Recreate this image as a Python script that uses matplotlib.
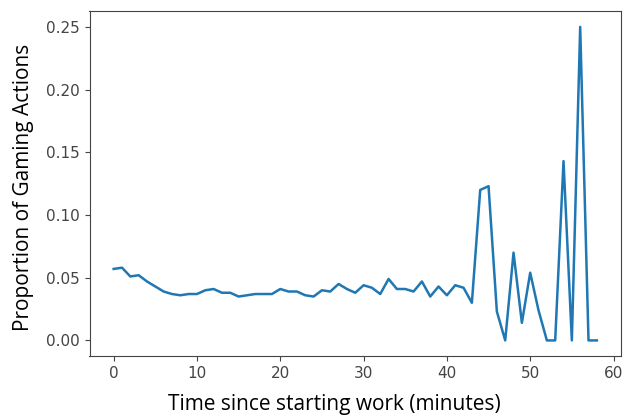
import matplotlib
matplotlib.use("Agg")
import matplotlib.pyplot as plt
import numpy as np

# minutes since starting work, one point per minute
minutes = np.arange(0, 59)
gaming_prop = [
    0.057, 0.058, 0.051, 0.052, 0.047, 0.043, 0.039, 0.037, 0.036, 0.037,
    0.037, 0.040, 0.041, 0.038, 0.038, 0.035, 0.036, 0.037, 0.037, 0.037,
    0.041, 0.039, 0.039, 0.036, 0.035, 0.040, 0.039, 0.045, 0.041, 0.038,
    0.044, 0.042, 0.037, 0.049, 0.041, 0.041, 0.039, 0.047, 0.035, 0.043,
    0.036, 0.044, 0.042, 0.030, 0.120, 0.123, 0.023, 0.000, 0.070, 0.014,
    0.054, 0.024, 0.000, 0.000, 0.143, 0.000, 0.250, 0.000, 0.000,
]

fig = plt.figure(figsize=(6.25, 4.16), dpi=100)
ax = fig.add_axes([0.1432, 0.144, 0.8504, 0.829])

ax.plot(minutes, gaming_prop, color="#1f77b4", linewidth=1.8)

ax.set_xticks([0, 10, 20, 30, 40, 50, 60])
ax.set_yticks([0.00, 0.05, 0.10, 0.15, 0.20, 0.25])
ax.tick_params(labelsize=11, labelcolor="#444444", color="#444444")
for s in ax.spines.values():
    s.set_color("#444444")

ax.set_xlabel("Time since starting work (minutes)", fontsize=15, family="Open Sans")
ax.set_ylabel("Proportion of Gaming Actions", fontsize=15, family="Open Sans")
# label positions nudged to match the original screenshot
ax.xaxis.set_label_coords(0.46, -0.11)
ax.yaxis.set_label_coords(-0.105, 0.49)

fig.savefig("out.png", dpi=100)
